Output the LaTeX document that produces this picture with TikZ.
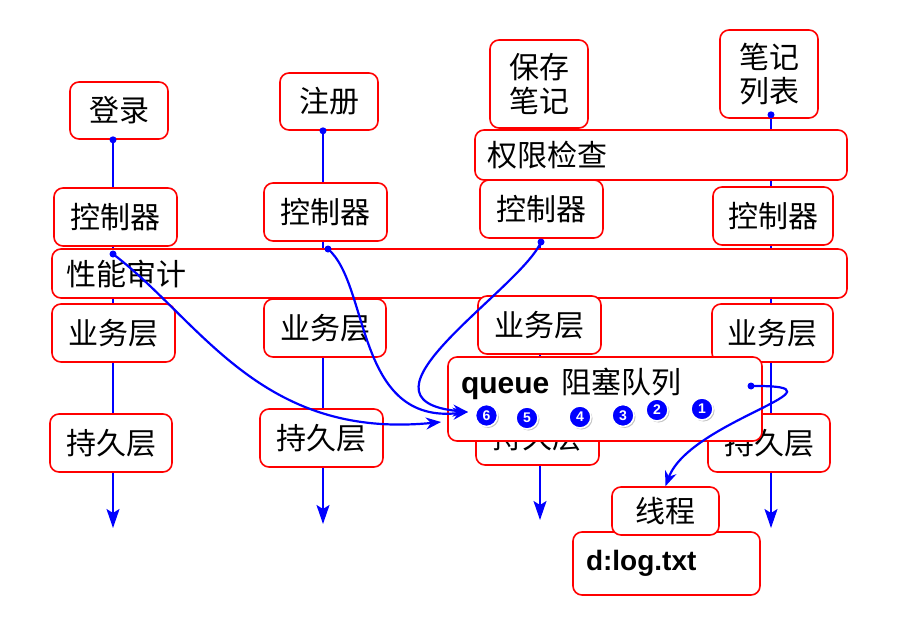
\documentclass[tikz,border=0pt]{standalone}
\usepackage{fontspec}
\setmainfont{Liberation Sans}
\newfontfamily\cjk{Noto Sans CJK SC}
\usetikzlibrary{arrows.meta,backgrounds,shadows}

\tikzset{
  box/.style={draw=red,line width=1.6pt,rounded corners=9pt,fill=white,inner sep=0pt,font=\cjk\fontsize{30}{34}\selectfont},
  link/.style={draw=blue,line width=1.6pt},
  flow/.style={draw=blue,line width=2.2pt,-{Stealth[length=15pt,width=12pt]}},
  num/.style={circle,fill=blue,draw=white,line width=1.6pt,minimum size=22pt,inner sep=0pt,text=white,font=\bfseries\fontsize{14}{14}\selectfont,drop shadow={opacity=.45,shadow xshift=1.5pt,shadow yshift=-1.5pt}}
}

\begin{document}
\begin{tikzpicture}[x=1pt,y=-1pt]
\path[use as bounding box] (0,0) rectangle (916,618);
% ends of the four columns
\coordinate (e1) at (113,528);
\coordinate (e2) at (323,524);
\coordinate (e3) at (540,520);
\coordinate (e4) at (771,528);
% top requests
\node[box,minimum width=98pt,minimum height=57pt] (dl) at (119,110.5) {登录};
\node[box,minimum width=98pt,minimum height=57pt] (zc) at (329,101.5) {注册};
\node[box,minimum width=98pt,minimum height=88pt,align=left] (bc) at (539,84) {保存\\笔记};
\node[box,minimum width=98pt,minimum height=88pt,align=left] (bl) at (769,74) {笔记\\列表};
\node[box,minimum width=372pt,minimum height=50pt,text width=348pt,align=left] (qx) at (661,155) {权限检查};
% controllers
\node[box,minimum width=123pt,minimum height=58pt] (kz1) at (115.5,217) {控制器};
\node[box,minimum width=123pt,minimum height=58pt] (kz2) at (325.5,212) {控制器};
\node[box,minimum width=123pt,minimum height=58pt] (kz3) at (541.5,209) {控制器};
\node[box,minimum width=120pt,minimum height=58pt] (kz4) at (773,216) {控制器};
\node[box,minimum width=795pt,minimum height=49pt,text width=767pt,align=left] (xn) at (449.5,273.5) {性能审计};
% services
\node[box,minimum width=123pt,minimum height=58pt] (yw1) at (113.5,333) {业务层};
\node[box,minimum width=122pt,minimum height=58pt] (yw2) at (325,328) {业务层};
\node[box,minimum width=123pt,minimum height=58pt] (yw3) at (539.5,325) {业务层};
\node[box,minimum width=121pt,minimum height=58pt] (yw4) at (772.5,333) {业务层};
% persistence
\node[box,minimum width=122pt,minimum height=58pt] (cj1) at (111,443) {持久层};
\node[box,minimum width=123pt,minimum height=58pt] (cj2) at (321.5,438) {持久层};
\node[box,minimum width=123pt,minimum height=55pt] (cj3) at (537.5,437.5) {持久层};
\node[box,minimum width=122pt,minimum height=58pt] (cj4) at (769,443) {持久层};
% queue and writer
\node[box,minimum width=314pt,text width=288pt,align=left,text height=36pt,text depth=48pt] (qu) at (605,399) {{\rmfamily\bfseries\fontsize{30}{34}\selectfont queue}\hspace{12pt}阻塞队列};
\node[box,minimum width=187pt,minimum height=63pt,text width=161pt,align=left,font=\bfseries\fontsize{28}{34}\selectfont] (lg) at (666.5,563.5) {d:log.txt};
\node[box,minimum width=107pt,minimum height=48pt] (xc) at (665.5,511) {线程};
\begin{scope}[on background layer]
\draw[link,-{Stealth[length=19pt,width=13pt,inset=4pt]}] (dl.south -| e1) -- (e1);
\draw[link,-{Stealth[length=19pt,width=13pt,inset=4pt]}] (zc.south -| e2) -- (e2);
\draw[link,-{Stealth[length=19pt,width=13pt,inset=4pt]}] (bc.south -| e3) -- (e3);
\draw[link,-{Stealth[length=19pt,width=13pt,inset=4pt]}] (bl.south -| e4) -- (e4);
\end{scope}
\fill[blue] (dl.south -| e1) circle (3.5pt);
\fill[blue] (zc.south -| e2) circle (3.5pt);
\fill[blue] ([yshift=4pt]bl.south -| e4) circle (3.5pt);
% log records into the queue
\coordinate (s1) at (113,254);
\coordinate (s2) at (328,249);
\coordinate (s3) at (541,242);
\coordinate (s4) at (751,386);
\coordinate (t1) at (441,422);
\coordinate (t2) at (468,412);
\node[num] (q1) at (702,409) {1};
\node[num] (q2) at (657,410) {2};
\node[num] (q3) at (623,415.5) {3};
\node[num] (q4) at (580,417) {4};
\node[num] (q5) at (527,418) {5};
\node[num] (q6) at (486.5,415.5) {6};
\draw[flow] (s1) .. controls (200,320) and (260,440) .. (t1);
\draw[flow] (s2) .. controls (370,285) and (355,425) .. (t2);
\draw[flow] (s3) .. controls (520,290) and (340,400) .. (t2);
\draw[flow] (s4) .. controls (860,385) and (690,420) .. (xc.north);
\fill[blue] (s1) circle (3.5pt);
\fill[blue] (s2) circle (3.5pt);
\fill[blue] (s3) circle (3.5pt);
\fill[blue] (s4) circle (3.5pt);
\end{tikzpicture}
\end{document}
